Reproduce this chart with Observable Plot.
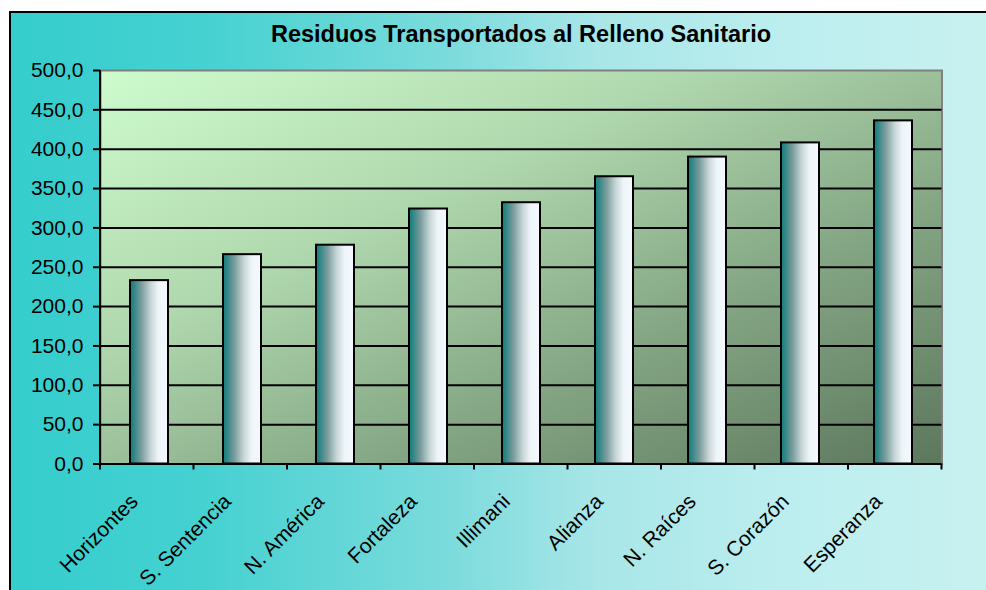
<!DOCTYPE html>
<html>
<head>
<meta charset="utf-8">
<script src="https://cdn.jsdelivr.net/npm/d3@7"></script>
<script src="https://cdn.jsdelivr.net/npm/@observablehq/plot@0.6"></script>
<style>
  html, body { margin: 0; padding: 0; background: #ffffff; width: 986px; height: 590px; overflow: hidden; }
  #chart {
    position: absolute; left: 9px; top: 11px; width: 975px; height: 577px;
    border-left: 2px solid #000; border-top: 2px solid #000;
    background: linear-gradient(to right, #35cdcd 0%, #46d1d1 20%, #7cdbdc 45%, #a8e6e8 60%, #bdeeef 80%, #c7f1ef 100%);
    font-family: "Liberation Sans", Arial, sans-serif;
  }
  #title {
    box-sizing: border-box; height: 40px; padding-top: 2px; line-height: 38px;
    margin-left: 89px; margin-right: 44px;
    text-align: center; font-weight: bold; font-size: 23.5px; color: #000;
    white-space: nowrap;
  }
  #plot svg { display: block; }
</style>
</head>
<body>
<div id="chart">
  <div id="title">Residuos Transportados al Relleno Sanitario</div>
  <div id="plot"></div>
</div>
<script>
const categories = ["Horizontes", "S. Sentencia", "N. América", "Fortaleza", "Illimani", "Alianza", "N. Raíces", "S. Corazón", "Esperanza"];
const values = [233, 266, 278, 324, 332, 365, 390, 408, 436];
const yTicks = [0, 50, 100, 150, 200, 250, 300, 350, 400, 450, 500];

const data = categories.map((c, i) => ({category: c, value: values[i]}));
const fmt = d => d.toFixed(1).replace(".", ",");

// defs (gradients) + left axis line + x ticks at band boundaries
function decorations(index, scales, values, dims) {
  const ns = "http://www.w3.org/2000/svg";
  const g = document.createElementNS(ns, "g");
  g.innerHTML = `
    <defs>
      <linearGradient id="barGrad" x1="0" y1="0" x2="1" y2="0">
        <stop offset="0" stop-color="#167c7c"/>
        <stop offset="0.1" stop-color="#2f8686"/>
        <stop offset="0.3" stop-color="#7a9c9c"/>
        <stop offset="0.55" stop-color="#c8d6d8"/>
        <stop offset="0.75" stop-color="#eef5f9"/>
        <stop offset="1" stop-color="#f4f9ff"/>
      </linearGradient>
      <linearGradient id="areaGrad" x1="0" y1="0" x2="1" y2="1">
        <stop offset="0" stop-color="#cefccd"/>
        <stop offset="0.35" stop-color="#b0d8ae"/>
        <stop offset="0.65" stop-color="#86a886"/>
        <stop offset="1" stop-color="#5d775d"/>
      </linearGradient>
    </defs>`;
  const x0 = dims.marginLeft, x1 = dims.width - dims.marginRight;
  const y0 = dims.marginTop, y1 = dims.height - dims.marginBottom;
  const n = categories.length, step = (x1 - x0) / n;
  let p = `M${x0},${y0}V${y1 + 6}`;
  for (let i = 0; i <= n; i++) p += `M${x0 + i * step},${y1}v6`;
  const path = document.createElementNS(ns, "path");
  path.setAttribute("d", p);
  path.setAttribute("stroke", "#000");
  path.setAttribute("stroke-width", "2");
  path.setAttribute("fill", "none");
  g.appendChild(path);
  return g;
}

const plot = Plot.plot({
  width: 975,
  height: 537,
  marginLeft: 89,
  marginTop: 17,
  marginRight: 44.5,
  marginBottom: 126.5,
  style: {background: "transparent", fontFamily: "'Liberation Sans', Arial, sans-serif", fontSize: "21px", color: "#000"},
  x: {domain: categories, paddingInner: 0.59, paddingOuter: 0.295, label: null},
  y: {domain: [0, 500], label: null},
  marks: [
    Plot.frame({fill: "url(#areaGrad)", stroke: "#808080", strokeWidth: 2}),
    Plot.gridY(yTicks.filter(t => t > 0 && t < 500), {stroke: "#000", strokeOpacity: 1, strokeWidth: 2}),
    Plot.barY(data, {x: "category", y: "value", fill: "url(#barGrad)", stroke: "#000", strokeWidth: 2}),
    Plot.ruleY([0], {stroke: "#000", strokeWidth: 2}),
    decorations,
    Plot.axisY({ticks: yTicks, tickFormat: fmt, tickSize: 7, tickPadding: 10, stroke: "#000", strokeWidth: 2, fontSize: 21, label: null}),
    Plot.axisX({ticks: [], label: null}),
    Plot.text(categories, {x: d => d, frameAnchor: "bottom", rotate: -45, textAnchor: "end", lineAnchor: "middle", dx: -15, dy: 34, fontSize: 21, fill: "#000"})
  ]
});
document.getElementById("plot").appendChild(plot);
</script>
</body>
</html>
